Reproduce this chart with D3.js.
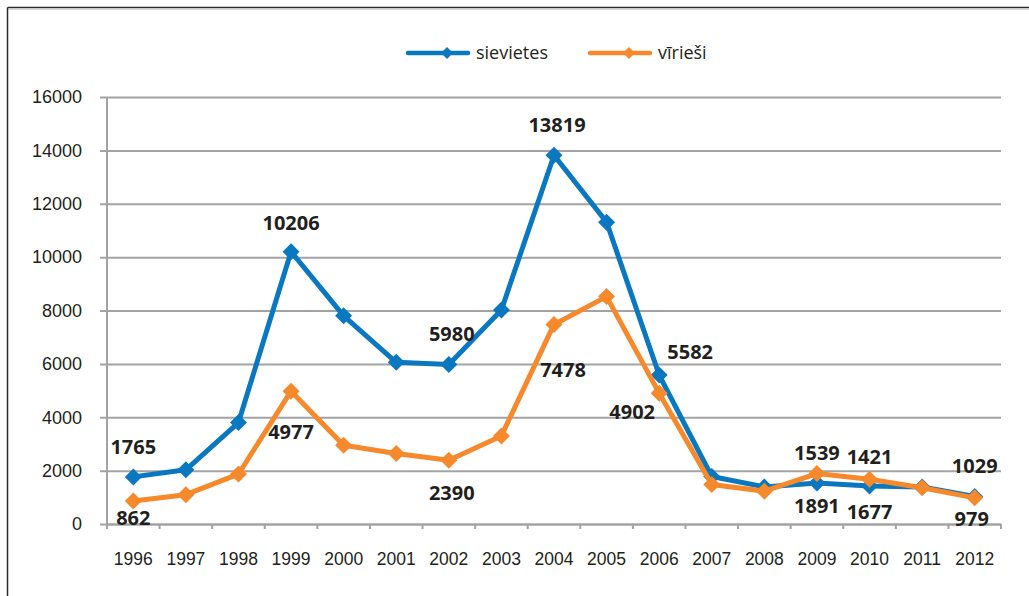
<!DOCTYPE html>
<html>
<head>
<meta charset="utf-8">
<script src="https://cdn.jsdelivr.net/npm/d3@7"></script>
<style>
  body { margin: 0; background: #fff; }
  svg { display: block; font-family: "Open Sans", sans-serif; }
</style>
</head>
<body>
<svg id="chart" width="1029" height="596"></svg>
<script>
// chart data
const years = ["1996","1997","1998","1999","2000","2001","2002","2003","2004","2005","2006","2007","2008","2009","2010","2011","2012"];
const sievietes = [1765, 2030, 3800, 10206, 7800, 6060, 5980, 8020, 13819, 11310, 5582, 1780, 1390, 1539, 1421, 1390, 1029];
const viriesi = [862, 1100, 1870, 4977, 2950, 2640, 2390, 3300, 7478, 8520, 4902, 1480, 1230, 1891, 1677, 1360, 979];
const labelYears = ["1996","1999","2002","2004","2006","2009","2010","2012"];
const yTicks = [0, 2000, 4000, 6000, 8000, 10000, 12000, 14000, 16000];

// label nudges (px) - same order as labelYears
const blueNudge = [[0,-30],[0,-29],[3,-31],[3,-30],[31,-23],[0,-30],[0,-29],[0,-31]];
const orangeNudge = [[0,17],[0,41],[3,33],[9,45],[-27,19],[0,32],[0,33],[-3,21]];

const BLUE = "#0a77c1", ORANGE = "#f5892b", GRID = "#a3a3a5", TXT = "#231f20";

const svg = d3.select("#chart");

// frame
svg.append("line").attr("x1", 7.5).attr("x2", 1029).attr("y1", 7.5).attr("y2", 7.5)
    .attr("stroke", "#2b2b2b").attr("stroke-width", 1.5);
svg.append("line").attr("x1", 8).attr("x2", 1029).attr("y1", 9.2).attr("y2", 9.2)
    .attr("stroke", "#c8c8c8").attr("stroke-width", 1);
svg.append("line").attr("x1", 7.5).attr("x2", 7.5).attr("y1", 7.5).attr("y2", 596)
    .attr("stroke", "#2b2b2b").attr("stroke-width", 1.5);

const x = d3.scaleBand().domain(years).range([107, 1001]);
const y = d3.scaleLinear().domain([0, 16000]).range([524, 97]);
const cx = d => x(d) + x.bandwidth() / 2;

// gridlines + y axis
const yAxis = d3.axisLeft(y).tickValues(yTicks).tickSize(-(1001 - 100)).tickPadding(18).tickFormat(d3.format("d"));
const gy = svg.append("g").attr("transform", "translate(100,0)").call(yAxis);
gy.select(".domain").remove();
gy.selectAll(".tick line").attr("stroke", GRID).attr("stroke-width", 2);
gy.selectAll(".tick text").attr("font-size", 18).attr("fill", TXT);
svg.append("line").attr("x1", 107).attr("x2", 107).attr("y1", 97).attr("y2", 524)
    .attr("stroke", GRID).attr("stroke-width", 2);

// x axis
const xAxis = d3.axisBottom(x).tickSize(0).tickPadding(29);
const gx = svg.append("g").attr("transform", "translate(0,524)").call(xAxis);
gx.select(".domain").attr("stroke", GRID).attr("stroke-width", 2);
gx.selectAll(".tick text").attr("font-size", 17.5).attr("fill", TXT);
const bounds = years.map(d => x(d)).concat([x(years[years.length - 1]) + x.bandwidth()]);
gx.selectAll(".sep").data(bounds).join("line").attr("class", "sep")
    .attr("x1", d => d).attr("x2", d => d).attr("y1", 0).attr("y2", 5)
    .attr("stroke", GRID).attr("stroke-width", 2);

// series
const diamond = r => `M0,${-r}L${r},0L0,${r}L${-r},0Z`;
const series = [
  { name: "sievietes", values: sievietes, color: BLUE, nudge: blueNudge },
  { name: "vīrieši", values: viriesi, color: ORANGE, nudge: orangeNudge }
];
const line = d3.line().x((d, i) => cx(years[i])).y(d => y(d));

series.forEach(s => {
  svg.append("path").attr("d", line(s.values)).attr("fill", "none")
      .attr("stroke", s.color).attr("stroke-width", 5).attr("stroke-linejoin", "round");
  svg.append("g").selectAll("path").data(s.values).join("path")
      .attr("transform", (d, i) => `translate(${cx(years[i])},${y(d)})`)
      .attr("d", diamond(8.5)).attr("fill", s.color);
});

// data labels
series.forEach(s => {
  svg.append("g").selectAll("text").data(labelYears).join("text")
      .attr("x", (d, k) => cx(d) + s.nudge[k][0])
      .attr("y", (d, k) => y(s.values[years.indexOf(d)]) + s.nudge[k][1])
      .attr("dy", "0.36em").attr("text-anchor", "middle")
      .attr("font-size", 20).attr("font-weight", "bold").attr("fill", TXT)
      .text(d => s.values[years.indexOf(d)]);
});

// legend
const legend = [
  { name: "sievietes", color: BLUE, x: 408 },
  { name: "vīrieši", color: ORANGE, x: 590 }
];
const lg = svg.append("g").selectAll("g").data(legend).join("g")
    .attr("transform", d => `translate(${d.x},53)`);
lg.append("line").attr("x1", 0).attr("x2", 60).attr("stroke", d => d.color)
    .attr("stroke-width", 4.5).attr("stroke-linecap", "round");
lg.append("path").attr("d", diamond(6)).attr("transform", "translate(39,0)").attr("fill", d => d.color);
lg.append("text").attr("x", 68).attr("dy", "0.32em").attr("font-size", 18).attr("fill", TXT)
    .text(d => d.name);
</script>
</body>
</html>
